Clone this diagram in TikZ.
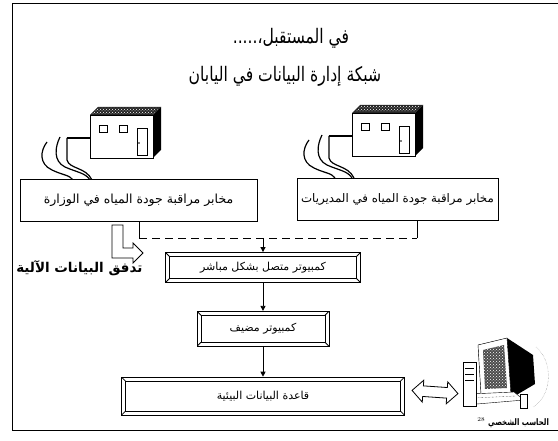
\documentclass[tikz,border=0pt]{standalone}
\usepackage{fontspec}
\newfontfamily\arabicfont[Script=Arabic]{DejaVu Sans}
\newfontfamily\arabicnarrow[Script=Arabic, FakeStretch=0.78]{DejaVu Sans}
\TeXXeTstate=1
\usetikzlibrary{positioning, shapes.arrows, arrows.meta, patterns}

\newcommand{\artext}[1]{{\arabicfont\beginR #1\endR}}
\newcommand{\arnarrow}[1]{{\arabicnarrow\beginR #1\endR}}

\tikzset{
  pics/lab/.style={code={
    \draw[thick, fill=white] (0,0) rectangle (63,43);
    \fill[black!85] (0,0) -- (8,-8) -- (71,-8) -- (63,0) -- cycle;
    \fill[pattern=crosshatch dots, pattern color=white] (2,-1) -- (8,-7) -- (69,-7) -- (63,-1) -- cycle;
    \fill[black] (63,0) -- (71,-8) -- (71,35) -- (63,43) -- cycle;
    \draw[thick] (9,10) rectangle (17,17);
    \draw[thick] (29,10) rectangle (37,17);
    \draw[thick] (47,13) rectangle (57,40);
    \fill (49,28) circle (0.9);
    \draw[line width=2pt] (0,23) -- (-23,23);
    \draw[line width=1.2pt] (-23,23) -- (-23,45) .. controls (-21,54) and (-4,52) .. (2,65);
    \draw[line width=1.2pt] (-30,22) .. controls (-35,32) and (-37,46) .. (-25,52) .. controls (-14,57) and (-4,58) .. (0,65);
    \draw[line width=1.2pt] (-43,27) .. controls (-50,36) and (-51,49) .. (-38,55) .. controls (-28,60) and (-20,60) .. (-17,65);
  }}
}

\begin{document}
\begin{tikzpicture}[
  x=1pt, y=-1pt,
  labbox/.style={draw, thick, fill=white, minimum height=42pt, inner sep=0pt, font=\fontsize{12.5}{15}\selectfont},
  bevel/.style={draw, thick, fill=white, inner sep=0pt, font=\fontsize{11}{13}\selectfont,
    path picture={
      \draw ([shift={(4pt,-4pt)}]path picture bounding box.north west) rectangle ([shift={(-4pt,4pt)}]path picture bounding box.south east);
      \draw (path picture bounding box.north west) -- ++(4pt,-4pt);
      \draw (path picture bounding box.north east) -- ++(-4pt,-4pt);
      \draw (path picture bounding box.south west) -- ++(4pt,4pt);
      \draw (path picture bounding box.south east) -- ++(-4pt,4pt);
    }},
  flow/.style={thick, -{Triangle[length=5pt, width=5pt]}}
]
\useasboundingbox (0,0) rectangle (558,441);
\draw[thick] (558,3) -- (12,3) -- (12,430) -- (558,430);

\node[font=\fontsize{20}{24}\selectfont] (future) at (291,38) {\arnarrow{في المستقبل،.....}};
\node[font=\fontsize{20}{24}\selectfont] (title) at (285,76) {\arnarrow{شبكة إدارة البيانات في اليابان}};

\pic at (90,115) {lab};
\pic at (352,113) {lab};

\node[labbox, minimum width=237pt] (minlab) at (138.5,200) {\artext{مخابر مراقبة جودة المياه في الوزارة}};
\node[labbox, minimum width=201pt, inner sep=1pt] (dirlab) at (397.5,199) {\arabicfont\fontsize{11.8}{14}\selectfont\beginR مخابر مراقبة جودة المياه في المديريات\endR};

\coordinate (jl) at (139,238);
\coordinate (jr) at (417,238);
\coordinate (jm) at (263,238);
\draw[thick] (minlab.south -| jl) -- (jl);
\draw[thick] (dirlab.south -| jr) -- (jr);
\draw[thick, dash pattern=on 8pt off 5pt] (jl) -- (jr);

\node[bevel, minimum width=195pt, minimum height=30pt] (direct) at (263,267.5) {\artext{كمبيوتر متصل بشكل مباشر}};
\node[bevel, minimum width=132pt, minimum height=35pt, below=28pt of direct] (host) {\artext{كمبيوتر مضيف}};
\node[bevel, minimum width=283pt, minimum height=38pt, below=30pt of host] (envdb) {\artext{قاعدة البيانات البيئية}};

\draw[flow] (jm) -- (jm |- direct.north);
\draw[flow] (direct) -- (host);
\draw[flow] (host) -- (envdb);

% hollow L arrow for the automatic flow
\coordinate (bend) at (112,225);
\draw[thick, fill=white] (bend) -- ++(0,33) -- ++(21,0) -- ++(0,5) -- ++(10,-10) -- ++(-10,-10) -- ++(0,5) -- ++(-10,0) -- ++(0,-23) -- cycle;
\node[font=\bfseries\fontsize{13.5}{16}\selectfont, anchor=east] (auto) at (146,268) {\artext{تدفق البيانات الآلية}};

% personal computer
\node[double arrow, draw, thick, fill=white, minimum width=22pt, minimum height=46pt,
  double arrow head extend=4pt, rotate=-4] (link) at (435,392) {};
\fill[black] (478,345) -- (507,338) -- (533,355) -- (535,384) -- (513,397) -- (481,394) -- cycle;
\draw[fill=white] (478,345) -- (507,338) -- (511,395) -- (481,394) -- cycle;
\fill[black!70] (483,350) -- (504,345) -- (507,388) -- (485,389) -- cycle;
\fill[pattern=crosshatch dots, pattern color=white] (483,350) -- (504,345) -- (507,388) -- (485,389) -- cycle;
\draw[fill=white] (470,394) -- (514,392) -- (524,400) -- (477,404) -- cycle;
\draw[densely dotted] (474,398) -- (516,396);
\draw[fill=white] (463,362) rectangle (476,406);
\draw (465,368) -- (474,368) (465,374) -- (474,374) (465,380) -- (474,380);
\draw[fill=white] (520,394) rectangle (527,408);
\draw[densely dotted, gray] (536,347) .. controls (554,362) and (552,396) .. (533,407);
\node[font=\fontsize{6}{7}\selectfont] (page) at (481,420) {28};
\node[font=\bfseries\fontsize{9}{11}\selectfont, anchor=west, inner sep=0pt] (pc) at (488,423) {\arnarrow{الحاسب الشخصي}};
\end{tikzpicture}
\end{document}
